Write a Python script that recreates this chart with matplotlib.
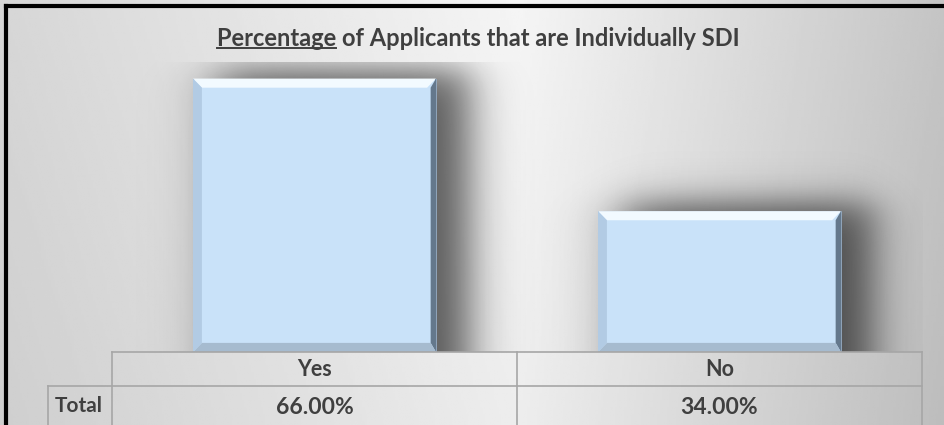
import numpy as np
import matplotlib
matplotlib.use("Agg")
import matplotlib.pyplot as plt
from matplotlib.patches import Polygon
from matplotlib.lines import Line2D

categories = ["Yes", "No"]
values = [0.66, 0.34]
row_label = "Total"
value_labels = ["66.00%", "34.00%"]
title_underlined = "Percentage"
title_rest = " of Applicants that are Individually SDI"

W, H = 944, 425
plt.rcParams['font.family'] = ['Lato', 'DejaVu Sans']
txt_color = "#3f3f3f"
grid_color = "#a6a6a6"

fig = plt.figure(figsize=(W / 100, H / 100), dpi=100)

# gradient background over the whole figure
bg = fig.add_axes([0, 0, 1, 1])
xs = np.linspace(0, 1, 400)
col = np.interp(xs, [0, 0.55, 1], [0.84, 0.96, 0.77])
ys = np.linspace(0, 1, 60)
grad = col[None, :] - 0.03 * ys[:, None]
bg.imshow(grad, cmap="gray", vmin=0, vmax=1, aspect="auto",
          extent=[0, 1, 0, 1], origin="upper")
bg.set_xlim(0, 1)
bg.set_ylim(0, 1)
bg.axis("off")


def fx(px):
    return px / W


def fy(py):
    return 1 - py / H


# outer black frame (left and top only, rest is cropped)
fig.add_artist(Line2D([fx(6), fx(6)], [fy(6), 0], color="black", lw=3))
fig.add_artist(Line2D([fx(6), 1], [fy(6), fy(6)], color="black", lw=3))

left, right, top, base = 112, 922, 62, 352
ax = fig.add_axes([fx(left), fy(base), (right - left) / W, (base - top) / H])
ax.patch.set_alpha(0)
ax.axis("off")

x = np.arange(len(categories))
bw = 0.6
face = "#c9e2f9"


def soft(z, s):
    return 0.5 * (1 + np.tanh(z / s))


# soft drop shadows, offset to the right
gx = np.linspace(-0.5, len(categories) - 0.5, 600)
gy = np.linspace(0, 0.70, 300)
GX, GY = np.meshgrid(gx, gy)
alpha = np.zeros_like(GX)
for xi, v in zip(x, values):
    x0, x1 = xi - bw / 2 + 0.06, xi + bw / 2 + 0.08
    a = soft(GX - x0, 0.08) * soft(x1 - GX, 0.065) * soft(v + 0.02 - GY, 0.05)
    alpha = np.maximum(alpha, a)
rgba = np.zeros(GX.shape + (4,))
rgba[..., 3] = 0.62 * alpha
ax.imshow(rgba, extent=[gx[0], gx[-1], gy[0], gy[-1]], origin="lower",
          aspect="auto", zorder=1, interpolation="bilinear")
ax.set_xlim(-0.5, len(categories) - 0.5)
ax.set_ylim(0, 0.70)

bars = ax.bar(x, values, width=bw, color=face, edgecolor="#8ea4bb",
              lw=0.6, zorder=3)

# bevel edges
bx, by = 0.022, 0.022
for b in bars:
    x0, x1 = b.get_x(), b.get_x() + b.get_width()
    h = b.get_height()
    ax.add_patch(Polygon([[x0, h], [x1, h], [x1 - bx, h - by], [x0 + bx, h - by]],
                         facecolor="#f2faff", lw=0, zorder=4))
    ax.add_patch(Polygon([[x1, h], [x1, 0], [x1 - bx * 0.6, by], [x1 - bx * 0.6, h - by]],
                         facecolor="#64788c", lw=0, zorder=4))
    ax.add_patch(Polygon([[x0, 0], [x1, 0], [x1 - bx * 0.6, by], [x0 + bx, by]],
                         facecolor="#a6bbcf", lw=0, zorder=4))
    ax.add_patch(Polygon([[x0, 0], [x0, h], [x0 + bx, h - by], [x0 + bx, by]],
                         facecolor="#b2cbe4", lw=0, zorder=4))

# data table under the plot
row1_top, row1_bot = 352, 386
col_x = [left, (left + right) / 2, right]
lc = dict(color=grid_color, lw=1.2)
fig.add_artist(Line2D([fx(left), fx(right)], [fy(row1_top)] * 2, **lc))
fig.add_artist(Line2D([fx(48), fx(right)], [fy(row1_bot)] * 2, **lc))
for cx in col_x:
    fig.add_artist(Line2D([fx(cx)] * 2, [fy(row1_top), 0], **lc))
fig.add_artist(Line2D([fx(48)] * 2, [fy(row1_bot), 0], **lc))

for i, (c, lab) in enumerate(zip(categories, value_labels)):
    cx = (col_x[i] + col_x[i + 1]) / 2
    fig.text(fx(cx), fy(370), c, ha="center", va="center",
             fontsize=15.5, fontweight="bold", color=txt_color)
    fig.text(fx(cx), fy(407), lab, ha="center", va="center",
             fontsize=16.5, fontweight="bold", color=txt_color)
fig.text(fx(79), fy(406), row_label, ha="center", va="center",
         fontsize=15, fontweight="bold", color=txt_color)

# title with underlined first word
title = fig.text(fx(478), fy(38), title_underlined + title_rest, ha="center",
                 va="center", fontsize=17, fontweight="bold", color=txt_color)
fig.canvas.draw()
rend = fig.canvas.get_renderer()
ext = title.get_window_extent(rend)
tmp = fig.text(0, 0, title_underlined, fontsize=17, fontweight="bold")
w_ul = tmp.get_window_extent(rend).width
tmp.remove()
uy = (ext.y0 + 2) / H
fig.add_artist(Line2D([ext.x0 / W, (ext.x0 + w_ul) / W], [uy, uy],
                      color=txt_color, lw=1.4))

fig.savefig("out.png", dpi=100)
